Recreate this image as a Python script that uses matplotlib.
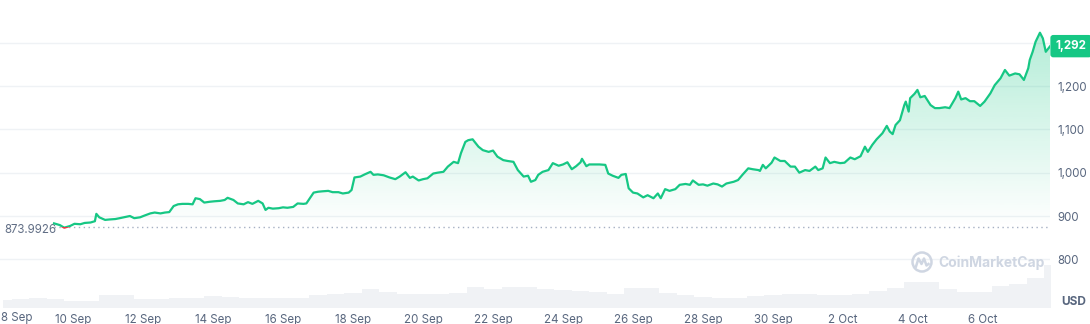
import numpy as np
import matplotlib
matplotlib.use("Agg")
from matplotlib import pyplot as plt
from matplotlib.patches import Rectangle, Circle
from matplotlib.lines import Line2D
from matplotlib.colors import to_rgb

plt.rcParams['font.family'] = ['Inter', 'DejaVu Sans']

# Цена: часы от 9 Sep 00:00 и значения
hours = [11, 15, 18, 22, 25, 29, 32, 36, 39, 40, 42, 46, 49, 53, 56, 60, 63, 66, 70, 73,
         77, 80, 84, 87, 90, 93, 96, 99, 103, 106, 108, 111, 114, 118, 121, 125, 128, 130, 134, 137,
         141, 144, 147, 151, 154, 156, 158, 161, 165, 168, 171, 175, 178, 182, 184, 186, 189, 192, 195, 199,
         202, 206, 209, 213, 215, 217, 221, 224, 228, 230, 233, 237, 241, 245, 248, 252, 255, 257, 261, 264,
         267, 271, 274, 278, 281, 285, 288, 290, 293, 295, 298, 302, 305, 309, 312, 315, 319, 322, 326, 329,
         333, 336, 338, 341, 343, 346, 350, 353, 357, 360, 363, 366, 369, 372, 373, 376, 378, 382, 385, 389,
         391, 394, 398, 400, 403, 405, 408, 411, 415, 418, 422, 425, 427, 430, 433, 437, 440, 444, 447, 449,
         453, 456, 459, 463, 466, 469, 472, 477, 480, 483, 487, 490, 494, 495, 497, 499, 503, 505, 509, 512,
         516, 519, 522, 526, 529, 533, 535, 538, 540, 543, 546, 550, 553, 557, 560, 564, 567, 569, 572, 575,
         579, 582, 584, 586, 588, 591, 594, 595, 597, 598, 601, 603, 605, 608, 612, 615, 618, 622, 625, 629,
         631, 633, 636, 639, 642, 646, 649, 653, 656, 660, 663, 666, 670, 673, 676, 679, 680, 682, 684, 687,
         689, 691, 694]
price = [883, 879, 873, 877, 882, 881, 884, 885, 888, 905, 897, 891, 892, 893, 895, 898, 900, 895, 897, 901,
         906, 908, 906, 908, 909, 923, 927, 928, 928, 927, 941, 939, 931, 933, 934, 935, 937, 942, 937, 929,
         927, 932, 928, 935, 929, 914, 919, 917, 918, 920, 919, 921, 929, 928, 929, 939, 954, 956, 957, 958,
         955, 955, 952, 954, 960, 989, 991, 996, 1002, 995, 996, 994, 989, 985, 991, 1001, 988, 991, 982, 985,
         987, 998, 1000, 1002, 1014, 1025, 1022, 1045, 1071, 1075, 1077, 1060, 1052, 1048, 1051, 1037, 1029, 1027, 1025, 1006,
         991, 993, 979, 983, 995, 1002, 1006, 1022, 1016, 1019, 1024, 1008, 1015, 1024, 1032, 1015, 1019, 1019, 1019, 1018,
         998, 993, 988, 995, 997, 964, 954, 952, 943, 948, 941, 952, 941, 962, 958, 962, 972, 974, 972, 982,
         972, 973, 970, 975, 973, 968, 975, 979, 983, 995, 1010, 1008, 1006, 1004, 1018, 1010, 1023, 1035, 1027, 1027,
         1014, 1014, 1000, 1006, 1004, 1014, 1006, 1010, 1035, 1022, 1025, 1022, 1023, 1035, 1031, 1038, 1060, 1048, 1064, 1077,
         1091, 1108, 1095, 1089, 1110, 1121, 1156, 1164, 1141, 1172, 1182, 1191, 1174, 1177, 1156, 1149, 1149, 1151, 1149, 1172,
         1187, 1169, 1172, 1165, 1165, 1154, 1164, 1183, 1202, 1218, 1237, 1224, 1229, 1227, 1214, 1241, 1260, 1279, 1302, 1323,
         1310, 1279, 1292]

base_price = 873.9926
last_label = "1,292"

# Объём, шаг 12 часов начиная с 8 Sep 00:00
vol_start = -24
vol_step = 12
volume = [76, 90, 100, 90, 70, 72, 127, 127, 93, 93, 103, 103, 117, 115, 96, 96, 96, 97, 131, 141,
          155, 189, 160, 141, 141, 141, 148, 213, 189, 213, 206, 190, 180, 170, 160, 145, 200, 200, 150, 130,
          110, 103, 103, 120, 135, 140, 140, 135, 135, 140, 170, 200, 265, 260, 190, 165, 165, 220, 240, 300,
          430]

tick_labels = ["8 Sep", "10 Sep", "12 Sep", "14 Sep", "16 Sep", "18 Sep", "20 Sep", "22 Sep",
               "24 Sep", "26 Sep", "28 Sep", "30 Sep", "2 Oct", "4 Oct", "6 Oct"]
ytick_vals = [800, 900, 1000, 1100, 1200, 1300]
ytick_labels = ["800", "900", "1,000", "1,100", "1,200", ""]

green = "#16c784"
red = "#ea3943"
gray = "#58667e"

xmin, xmax = -26.06, 693.9
ymin, ymax = 687.7, 1398.5

hours = np.array(hours, dtype=float)
price = np.array(price, dtype=float)
vol_h = vol_start + vol_step * np.arange(len(volume))

fig = plt.figure(figsize=(10.9, 3.24), dpi=100)
rect = [0.0, 16 / 324, 1050 / 1090, 308 / 324]

# объём
axv = fig.add_axes(rect)
axv.fill_between(vol_h, volume, 0, step="mid", color="#f0f2f5", lw=0)
axv.set_xlim(xmin, xmax)
axv.set_ylim(0, 3080)
axv.axis("off")

ax = fig.add_axes(rect)
ax.patch.set_alpha(0)
for s in ax.spines.values():
    s.set_visible(False)

# сетка
for v in ytick_vals:
    ax.axhline(v, color="#eff2f5", lw=1, zorder=0)

# градиентная заливка
poly = ax.fill_between(hours, price, base_price, facecolor="none", lw=0)
grad = np.zeros((256, 1, 4))
grad[:, 0, :3] = to_rgb(green)
grad[:, 0, 3] = np.linspace(0.0, 0.32, 256)
top = price.max()
im = ax.imshow(grad, extent=[xmin, xmax, base_price, top], origin="lower",
               aspect="auto", zorder=1, interpolation="bilinear")
im.set_clip_path(poly.get_paths()[0], transform=ax.transData)

# базовая линия
ax.hlines(base_price, hours[0], xmax, colors="#a6b0c3", linestyles=(0, (1, 2.5)), lw=1, zorder=2)
ax.text(4 / 1050, 868, "873.9926", transform=ax.get_yaxis_transform(), ha="left", va="center",
        fontsize=8.3, color="#616e85")

# линия цены (зелёная выше базы, красная ниже)
l1, = ax.plot(hours, price, color=green, lw=1.6, zorder=3, solid_joinstyle="round")
l1.set_clip_path(Rectangle((xmin, base_price), xmax - xmin, ymax - base_price, transform=ax.transData))
l2, = ax.plot(hours, price, color=red, lw=1.6, zorder=3, solid_joinstyle="round")
l2.set_clip_path(Rectangle((xmin, ymin), xmax - xmin, base_price - ymin, transform=ax.transData))

ax.set_xlim(xmin, xmax)
ax.set_ylim(ymin, ymax)

# оси
tick_pos = [-24 + 48 * i for i in range(len(tick_labels))]
ax.set_xticks(tick_pos[1:])
ax.set_xticklabels(tick_labels[1:])
ax.tick_params(axis="x", length=0, pad=4, labelsize=8.3, labelcolor=gray)
fig.text(0.0005, 1 - 318 / 324, tick_labels[0], ha="left", va="center", fontsize=8.3, color=gray)

ax.yaxis.tick_right()
ax.set_yticks(ytick_vals)
ax.set_yticklabels(ytick_labels)
ax.tick_params(axis="y", length=0, pad=5, labelsize=8.3, labelcolor=gray)

# последняя цена
ax.annotate(last_label, xy=(1.0, price[-1]), xycoords=("axes fraction", "data"),
            xytext=(4, 0), textcoords="offset points", ha="left", va="center",
            fontsize=8.3, fontweight="bold", color="white",
            bbox=dict(boxstyle="round,pad=0.45,rounding_size=0.25", fc=green, ec="none"))

fig.text(1074 / 1090, 1 - 302 / 324, "USD", ha="center", va="center", fontsize=8.5,
         fontweight="bold", color=gray)

# водяной знак
wm = "#cfd6e2"
cx, cy = 9.22, (324 - 262) / 100
fig.patches.append(Circle((cx, cy), 0.095, transform=fig.dpi_scale_trans,
                          fill=False, ec=wm, lw=1.8))
fig.lines.append(Line2D([cx - 0.06, cx - 0.035, cx - 0.005, cx + 0.02, cx + 0.045, cx + 0.065],
                        [cy - 0.045, cy + 0.035, cy - 0.02, cy + 0.035, cy - 0.035, cy - 0.02],
                        transform=fig.dpi_scale_trans, color=wm, lw=1.8, solid_joinstyle="round"))
fig.text(938 / 1090, 1 - 263 / 324, "CoinMarketCap", ha="left", va="center", fontsize=10,
         fontweight="bold", color=wm)

plt.savefig("out.png", dpi=100)
plt.close()
